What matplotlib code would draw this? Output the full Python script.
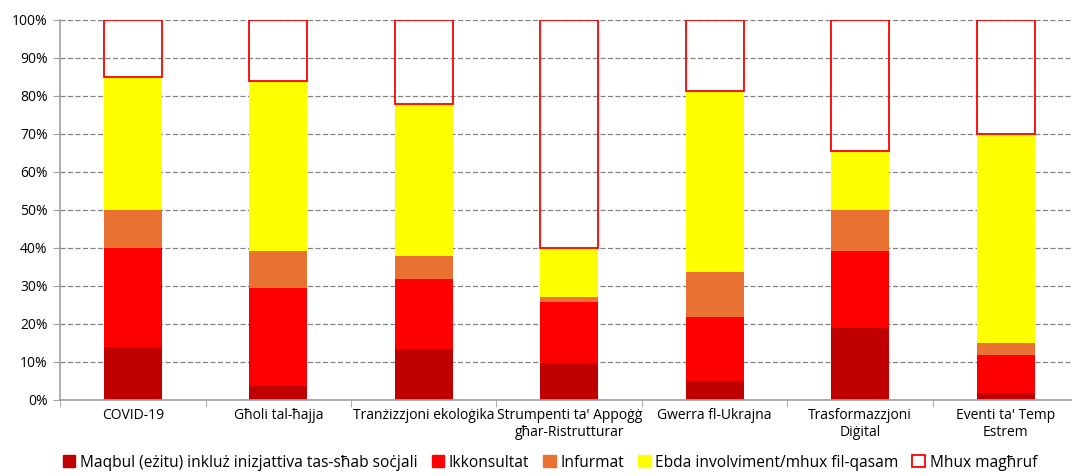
import matplotlib.pyplot as plt
import numpy as np
from matplotlib.patches import Patch

plt.rcParams['font.family'] = ['Open Sans', 'DejaVu Sans']

categories = [
    "COVID-19",
    "Għoli tal-ħajja",
    "Tranżizzjoni ekoloġika",
    "Strumpenti ta' Appoġġ\ngħar-Ristrutturar",
    "Gwerra fl-Ukrajna",
    "Trasformazzjoni\nDiġital",
    "Eventi ta' Temp\nEstrem",
]
series_names = [
    "Maqbul (eżitu) inkluż inizjattiva tas-sħab soċjali",
    "Ikkonsultat",
    "Infurmat",
    "Ebda involviment/mhux fil-qasam",
    "Mhux magħruf",
]
maqbul = [14, 3.7, 13.4, 9.7, 4.9, 19, 1.8]
ikkonsultat = [26, 25.7, 18.4, 16.1, 16.9, 20.2, 10.1]
infurmat = [10, 9.8, 6, 1.4, 11.8, 10.8, 3]
ebda = [35, 44.8, 40.1, 12.8, 47.7, 15.4, 55.1]
mhux = [15, 16, 22.1, 60, 18.7, 34.6, 30]

colors = ["#C00000", "#FF0000", "#E97132", "#FFFF00"]

fig = plt.figure(figsize=(10.72, 4.76), dpi=100)
ax = fig.add_axes([0.056, 0.16, 0.95, 0.798])

x = np.arange(len(categories))
w = 0.4
bottom = np.zeros(len(categories))
for vals, c in zip([maqbul, ikkonsultat, infurmat, ebda], colors):
    ax.bar(x, vals, w, bottom=bottom, color=c, zorder=2)
    bottom += np.array(vals)
ax.bar(x, mhux, w, bottom=bottom, facecolor="none", edgecolor="#FF0000",
       linewidth=1.3, zorder=3)

ax.set_xlim(-0.5, len(categories) - 0.5)
ax.set_ylim(0, 100)
ax.set_yticks(np.arange(0, 101, 10))
ax.set_yticklabels([f"{v}%" for v in range(0, 101, 10)], fontsize=10)
ax.yaxis.grid(True, linestyle=(0, (4, 2)), color="#808080", linewidth=0.9, zorder=1)
ax.set_axisbelow(True)

ax.set_xticks(x)
ax.set_xticklabels(categories, fontsize=10)
ax.tick_params(axis='x', length=0, pad=6)
ax.set_xticks(np.arange(-0.5, len(categories), 1), minor=True)
ax.tick_params(axis='x', which='minor', length=5, color="#A0A0A0")
ax.tick_params(axis='y', length=5, color="#A0A0A0", pad=4)

for s in ["top", "right"]:
    ax.spines[s].set_visible(False)
for s in ["left", "bottom"]:
    ax.spines[s].set_color("#A0A0A0")
    ax.spines[s].set_linewidth(1.2)

handles = [Patch(facecolor=c, edgecolor=c) for c in colors]
handles.append(Patch(facecolor="white", edgecolor="#FF0000", linewidth=1.3))
fig.legend(handles, series_names, loc="lower center", ncol=5, frameon=False,
           fontsize=11.2, handlelength=0.8, handleheight=0.8, handletextpad=0.3,
           columnspacing=0.9, bbox_to_anchor=(0.513, -0.018))

fig.savefig("out.png", dpi=100)
